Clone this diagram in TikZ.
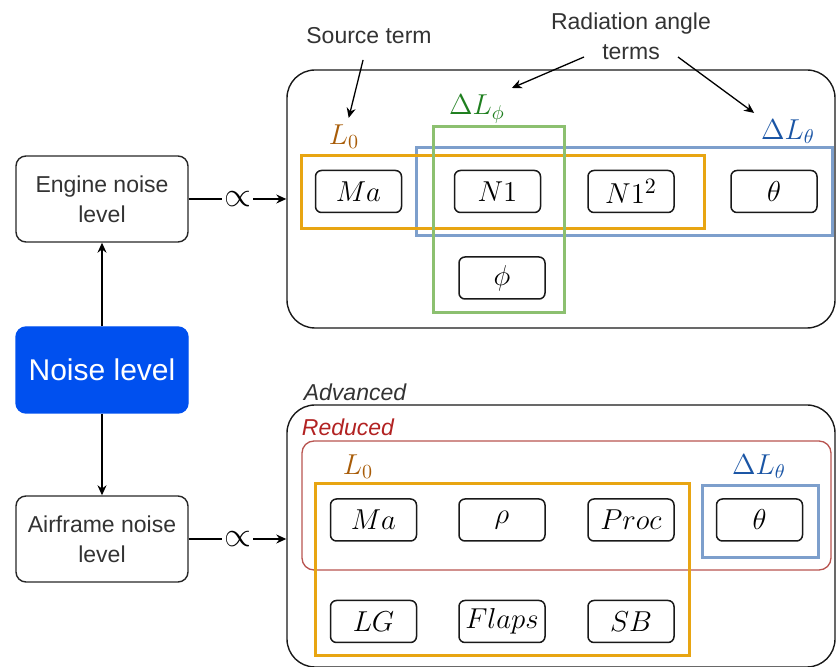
\documentclass[tikz,border=0pt]{standalone}
\usepackage{fontspec}
\setmainfont{Liberation Sans}
\usetikzlibrary{arrows.meta,positioning}
\definecolor{lzeroc}{HTML}{A85C08}
\definecolor{dphic}{HTML}{1F7F1F}
\definecolor{dthetac}{HTML}{1A55A5}
\definecolor{orangeg}{HTML}{E8A512}
\definecolor{blueg}{HTML}{7D9FCC}
\definecolor{greeng}{HTML}{8CC070}
\definecolor{redg}{HTML}{B85450}
\definecolor{reducedc}{HTML}{B22222}
\definecolor{noiseblue}{HTML}{0050EF}
\definecolor{txtgray}{HTML}{333333}
\tikzset{
  varbox/.style={draw=black!90, line width=0.75pt, rounded corners=3pt,
    minimum width=43pt, minimum height=21pt, inner sep=0pt,
    font=\fontsize{15}{17}\selectfont},
  levelbox/.style={draw=black!85, line width=0.7pt, rounded corners=5pt,
    minimum width=86pt, minimum height=43pt, align=center, text=txtgray,
    font=\fontsize{11.5}{15}\selectfont},
  bigbox/.style={draw=black!90, line width=0.7pt, rounded corners=14pt,
    minimum width=274pt},
  groupbox/.style={draw=#1, line width=1.5pt},
  termlabel/.style={text=#1, font=\fontsize{14.5}{17}\selectfont},
  note/.style={text=txtgray, align=center, font=\fontsize{11.5}{15}\selectfont},
  arr/.style={-{Stealth[length=5pt,width=4.5pt]}, line width=0.65pt},
}
\begin{document}
\begin{tikzpicture}[x=0.5pt,y=-0.5pt]
\useasboundingbox (0,0) rectangle (836,667);
% left column
\node [levelbox] (eng) at (102,199) {Engine noise\\level};
\node [levelbox, fill=noiseblue, draw=noiseblue, text=white,
  font=\fontsize{15}{18}\selectfont] (noise) at (102,370) {Noise level};
\node [levelbox] (air) at (102,539) {Airframe noise\\level};
\draw [arr] (noise.north) -- (eng.south);
\draw [arr] (noise.south) -- (air.north);
% big boxes
\node [bigbox, minimum height=129pt] (engbox) at (561,199) {};
\node [bigbox, minimum height=131pt] (airbox) at (561,536) {};
\draw [arr] (eng.east) -- node [midway, fill=white, inner sep=1pt, font=\LARGE]{$\propto$} (eng.east -| engbox.west);
\draw [arr] (air.east) -- node [midway, fill=white, inner sep=1pt, font=\LARGE]{$\propto$} (air.east -| airbox.west);

% engine terms
\draw [groupbox=blueg] (416,148) rectangle (832,236);
\draw [groupbox=orangeg] (301,156) rectangle (704,229);
\draw [groupbox=greeng] (433,127) rectangle (564,313);
\node [varbox] (ema) at (358.5,191.5) {$Ma$};
\node [varbox] (enone) at (497.5,191.5) {$N1$};
\node [varbox] (enonesq) at (631,191.5) {$N1^2$};
\node [varbox] (etheta) at (774,191.5) {$\theta$};
\node [varbox] (ephi) at (502,278) {$\phi$};
\node [termlabel=lzeroc] (elzero) at (344,137) {$L_0$};
\node [termlabel=dphic] (edphi) at (477,109) {$\Delta L_\phi$};
\node [termlabel=dthetac] (edtheta) at (788,132) {$\Delta L_\theta$};
\node [note] (src) at (369,36) {Source term};
\node [note] (rad) at (631,36) {Radiation angle\\terms};
\coordinate (radl) at (584,57);
\coordinate (radr) at (678,57);
\draw [arr, shorten <=4.5pt] (src) -- (elzero);
\draw [arr] (radl) -- (edphi.north east);
\draw [arr] (radr) -- (edtheta.north west);

% airframe terms
\node [note, font=\fontsize{11.5}{15}\selectfont\itshape] (adv) at (355,392) {Advanced};
\node [note, text=reducedc, font=\fontsize{11.5}{15}\selectfont\itshape] (red) at (348,427) {Reduced};
\draw [draw=redg, line width=0.65pt, rounded corners=6pt] (302,441) rectangle (831,570);
\draw [groupbox=orangeg] (315,484) rectangle (689,656);
\draw [groupbox=blueg] (702,486) rectangle (818,558);
\node [varbox] (ama) at (373.5,520) {$Ma$};
\node [varbox] (arho) at (502,520) {$\rho$};
\node [varbox] (aproc) at (631,520) {$Proc$};
\node [varbox] (atheta) at (759.5,520) {$\theta$};
\node [varbox] (alg) at (373.5,621.5) {$LG$};
\node [varbox] (aflaps) at (502,621.5) {$Flaps$};
\node [varbox] (asb) at (631,621.5) {$SB$};
\node [termlabel=lzeroc] (alzero) at (358,467) {$L_0$};
\node [termlabel=dthetac] (adtheta) at (759,467) {$\Delta L_\theta$};
\end{tikzpicture}
\end{document}
